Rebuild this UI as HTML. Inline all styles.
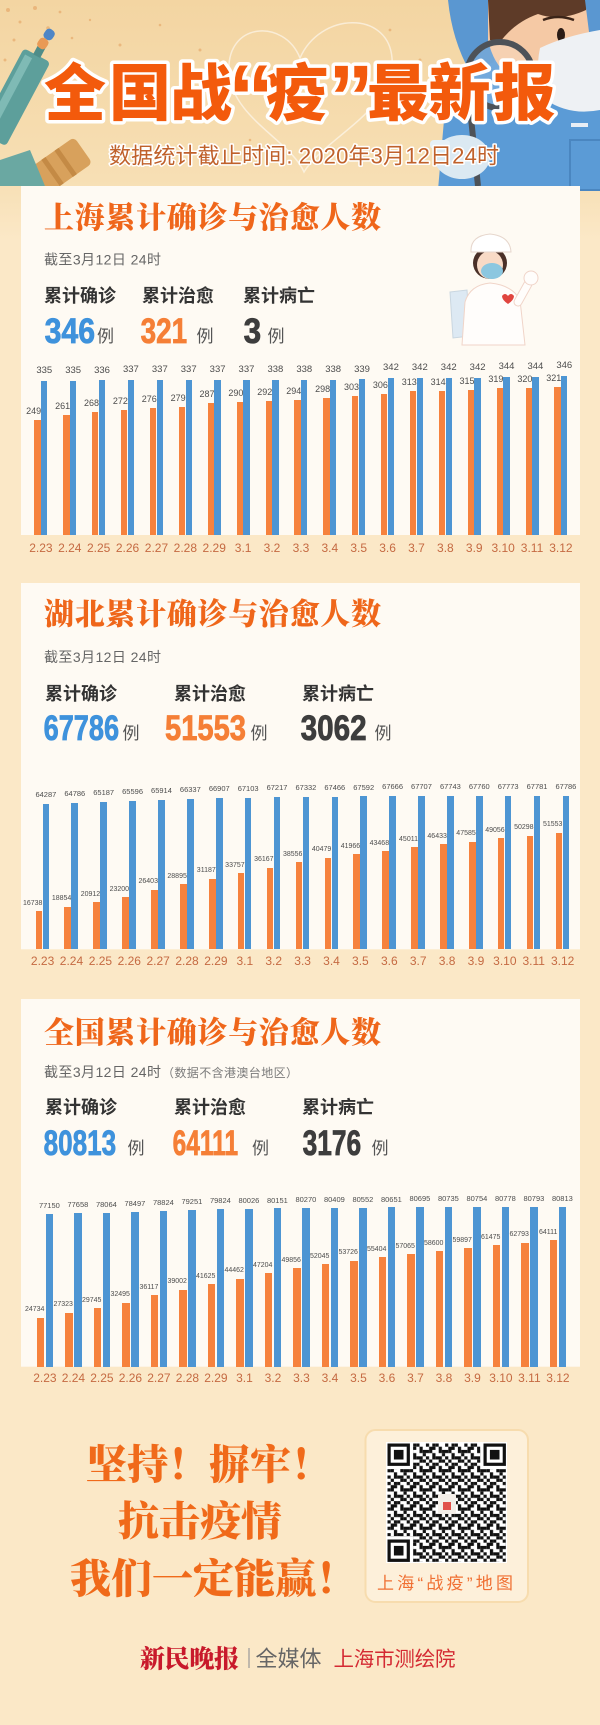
<!DOCTYPE html>
<html><head><meta charset="utf-8">
<style>
html,body{margin:0;padding:0;background:#fbe8c7}
#p{position:relative;width:600px;height:1725px;overflow:hidden;background:#fbe8c7}
#p>svg{position:absolute;left:0;top:0}
.ct{font-family:"Noto Serif CJK SC",serif;font-weight:900;font-size:30px;fill:#ef661a}
.st{font-family:"Liberation Sans","Noto Sans CJK SC",sans-serif;font-size:14px;fill:#666}
.lb{font-family:"Noto Sans CJK SC",sans-serif;font-weight:700;font-size:18px;fill:#333}
.nm{font-family:"Liberation Sans",sans-serif;font-weight:700;font-size:35px;stroke-width:.8}
.li{font-family:"Noto Sans CJK SC",sans-serif;font-size:17px;fill:#555}
.sl{font-family:"Noto Serif CJK SC",serif;font-weight:900;font-size:41px;fill:#f06a1a}
.ch{position:absolute;display:flex;height:0}
.g{position:relative;flex:none;height:0}
.g i{position:absolute;bottom:0;display:block}
.g .o{left:0;background:#f6823d}
.g .u{background:#4d95d3}
.g b,.g s{position:absolute;width:40px;white-space:nowrap;font-family:"Liberation Sans",sans-serif;font-weight:400;text-decoration:none}
.g b{color:#4d4d4d}
.g .lo{text-align:right}
.g .lb{text-align:center}
.g s{text-align:center;color:#c56a42;font-size:12px;line-height:14px}
.c1{left:34.4px;top:535px}
.c1 .g{width:28.9px}
.c1 .o{width:6.3px;height:calc(var(--o)*.46px)}
.c1 .u{left:6.7px;width:6.3px;height:calc(var(--b)*.46px)}
.c1 .lb{left:-10.15px;font-size:9.5px;line-height:10px;bottom:calc(var(--b)*.46px + 4.5px)}
.c1 .lo{left:-33.2px;font-size:9px;line-height:10px;bottom:calc(var(--o)*.46px + 4px)}
.c1 s{left:-13.5px;top:6px}
.c2{left:35.6px;top:949.3px}
.c2 .g{width:28.9px}
.c2 .o{width:6.6px;height:calc(var(--o)*.002262px)}
.c2 .u{left:7px;width:6.6px;height:calc(var(--b)*.002262px)}
.c2 .lb{left:-9.7px;font-size:7.5px;line-height:8px;bottom:calc(var(--b)*.002262px + 4.9px)}
.c2 .lo{left:-33.2px;font-size:7px;line-height:8px;bottom:calc(var(--o)*.002262px + 3.3px)}
.c2 s{left:-13px;top:4.8px}
.c3{left:36.6px;top:1366.7px}
.c3 .g{width:28.5px}
.c3 .o{width:7.6px;height:calc(var(--o)*.001975px)}
.c3 .u{left:9px;width:7.6px;height:calc(var(--b)*.001975px)}
.c3 .lb{left:-7.2px;font-size:7.5px;line-height:8px;bottom:calc(var(--b)*.001975px + 3.9px)}
.c3 .lo{left:-32.2px;font-size:7px;line-height:8px;bottom:calc(var(--o)*.001975px + 3.4px)}
.c3 s{left:-11.7px;top:4.4px}
</style></head><body><div id="p">
<svg width="600" height="1725" viewBox="0 0 600 1725">
<defs>
<linearGradient id="hg" x1="0" y1="0" x2="0" y2="1">
<stop offset="0" stop-color="#f3d5a2"/><stop offset="0.75" stop-color="#f7dfb4"/><stop offset="1" stop-color="#fbe8c7"/>
</linearGradient>
<pattern id="qr" patternUnits="userSpaceOnUse" x="387.5" y="1443.5" width="19.2" height="19.2">
<g fill="#111">
<rect x="0" y="0" width="3.2" height="3.2"/><rect x="6.4" y="0" width="3.2" height="3.2"/><rect x="9.6" y="0" width="3.2" height="3.2"/>
<rect x="3.2" y="3.2" width="3.2" height="3.2"/><rect x="6.4" y="3.2" width="3.2" height="3.2"/><rect x="12.8" y="3.2" width="3.2" height="3.2"/>
<rect x="0" y="6.4" width="3.2" height="3.2"/><rect x="3.2" y="6.4" width="3.2" height="3.2"/><rect x="12.8" y="6.4" width="3.2" height="3.2"/><rect x="16" y="6.4" width="3.2" height="3.2"/>
<rect x="6.4" y="9.6" width="3.2" height="3.2"/><rect x="16" y="9.6" width="3.2" height="3.2"/>
<rect x="0" y="12.8" width="3.2" height="3.2"/><rect x="6.4" y="12.8" width="3.2" height="3.2"/><rect x="9.6" y="12.8" width="3.2" height="3.2"/><rect x="12.8" y="12.8" width="3.2" height="3.2"/>
<rect x="3.2" y="16" width="3.2" height="3.2"/><rect x="12.8" y="16" width="3.2" height="3.2"/><rect x="16" y="16" width="3.2" height="3.2"/>
</g>
</pattern>
</defs>

<!-- header background -->
<rect x="0" y="0" width="600" height="240" fill="url(#hg)"/>
<g fill="#e5a363" opacity=".6">
<circle cx="8" cy="10" r="2"/><circle cx="20" cy="22" r="1.5"/><circle cx="35" cy="8" r="2"/><circle cx="14" cy="40" r="1.5"/>
<circle cx="48" cy="28" r="1.8"/><circle cx="60" cy="12" r="1.4"/><circle cx="28" cy="52" r="1.6"/><circle cx="72" cy="38" r="1.3"/>
<circle cx="5" cy="60" r="1.5"/><circle cx="90" cy="20" r="1.2"/><circle cx="120" cy="45" r="1.5"/><circle cx="160" cy="25" r="1.3"/>
<circle cx="200" cy="50" r="1.5"/><circle cx="390" cy="30" r="1.4"/><circle cx="420" cy="60" r="1.5"/><circle cx="250" cy="140" r="1.3"/>
</g>
<path d="M300,58 C284,18 226,22 229,72 C232,118 290,140 304,172 C324,138 396,110 392,58 C388,10 320,12 300,58 Z" fill="none" stroke="#fff" stroke-width="1.5" opacity=".55"/>

<!-- left syringe & items -->
<g transform="translate(16,95) rotate(28)">
<rect x="-15" y="-45" width="30" height="95" rx="4" fill="#5d9f9b"/>
<rect x="-11" y="-40" width="8" height="80" fill="#7fbab5"/>
<rect x="-4" y="-62" width="8" height="18" fill="#4f8d89"/>
</g>
<g transform="translate(46,39) rotate(35)">
<rect x="-5" y="-11" width="10" height="11" rx="4" fill="#4f86c6"/>
<rect x="-5" y="0" width="10" height="11" rx="4" fill="#e99a55"/>
</g>
<g transform="translate(62,165) rotate(-35)">
<rect x="-26" y="-16" width="52" height="32" rx="5" fill="#d8a15c"/>
<rect x="-14" y="-16" width="5" height="32" fill="#c48a45"/>
<rect x="2" y="-16" width="5" height="32" fill="#c48a45"/>
</g>
<path d="M0,160 L30,150 L45,186 L0,186 Z" fill="#6aa8a2"/>

<!-- right doctor -->
<path d="M438,190 L444,120 Q452,72 482,58 L600,50 L600,190 Z" fill="#5b9bd6"/>
<path d="M448,0 L494,0 L494,62 L470,72 Q452,40 448,0 Z" fill="#5a97d1"/>
<path d="M488,0 L590,0 L592,72 Q560,92 520,82 Q495,72 488,40 Z" fill="#f5c9a5"/>
<path d="M488,0 L588,0 L586,10 Q560,22 538,14 Q515,22 500,42 L490,40 Z" fill="#5e3b28"/>
<path d="M585,0 L600,0 L600,45 L590,40 Z" fill="#5a97d1"/>
<path d="M543,20 Q558,14 574,20" stroke="#3b2418" stroke-width="2.5" fill="none"/>
<ellipse cx="561" cy="35" rx="4" ry="7" fill="#2b1c16"/>
<ellipse cx="570" cy="50" rx="7" ry="3.5" fill="#f0a0a0" opacity=".7"/>
<path d="M540,48 Q565,36 600,30 L600,110 Q570,116 546,100 Q534,76 540,48 Z" fill="#eef1f4"/>
<circle cx="500" cy="75" r="33" fill="#ffffff" fill-opacity=".15" stroke="#4d5258" stroke-width="6"/>
<line x1="470" y1="108" x2="478" y2="186" stroke="#4d5258" stroke-width="6"/>
<ellipse cx="462" cy="157" rx="28" ry="22" fill="#dbe9f2"/>
<rect x="430" y="140" width="20" height="9" rx="4" fill="#e6f0f6"/>
<rect x="571" y="123" width="17" height="4" fill="#e8eef5"/>
<rect x="570" y="140" width="34" height="50" fill="none" stroke="#4a86c0" stroke-width="2"/>

<!-- header title -->
<g font-family="Noto Sans CJK SC,sans-serif" font-weight="900" font-size="62" fill="#f35a0c" stroke="#fff" stroke-width="7" stroke-linejoin="round" paint-order="stroke">
<text x="44 109 170" y="115">全国战</text>
<text x="266" y="115">疫</text>
<text x="367 428.5 493.6" y="115">最新报</text>
</g>
<g font-family="Liberation Sans,sans-serif" font-weight="700" font-size="92" fill="#f35a0c" stroke="#fff" stroke-width="7" stroke-linejoin="round" paint-order="stroke">
<text x="228" y="129">“</text>
<text x="328" y="129">”</text>
</g>
<text x="109" y="163.4" textLength="390" font-family="Liberation Sans,Noto Sans CJK SC,sans-serif" font-size="22" fill="#c0612b" stroke="#fff" stroke-width="3" stroke-linejoin="round" paint-order="stroke">数据统计截止时间: 2020年3月12日24时</text>

<!-- cards -->
<rect x="21" y="186" width="559" height="349" fill="#fefaf3"/>
<rect x="21" y="583" width="559" height="366.3" fill="#fefaf3"/>
<rect x="21" y="999" width="559" height="367.7" fill="#fefaf3"/>

<!-- card 1 -->
<text class="ct" x="44" y="228.1" textLength="337">上海累计确诊与治愈人数</text>
<text class="st" x="44" y="264.3" textLength="117">截至3月12日 24时</text>
<text class="lb" x="44" y="301.8">累计确诊</text>
<text class="lb" x="142" y="301.8">累计治愈</text>
<text class="lb" x="243" y="301.8">累计病亡</text>
<text class="nm" x="44.6" y="343" textLength="50.5" lengthAdjust="spacingAndGlyphs" fill="#3e92dc" stroke="#3e92dc">346</text>
<text class="nm" x="140.6" y="343" textLength="46.5" lengthAdjust="spacingAndGlyphs" fill="#f57f36" stroke="#f57f36">321</text>
<text class="nm" x="243.6" y="343" textLength="17.5" lengthAdjust="spacingAndGlyphs" fill="#3d3d3d" stroke="#3d3d3d">3</text>
<text class="li" x="97" y="342">例</text>
<text class="li" x="196.5" y="342">例</text>
<text class="li" x="267.5" y="342">例</text>

<!-- nurse -->
<path d="M450,292 L467,290 L470,336 L453,338 Z" fill="#dde9f3" stroke="#c9d6e0"/>
<path d="M462,345 L465,302 Q470,285 490,283 Q512,285 520,300 L525,345 Z" fill="#fffdfb" stroke="#f0d4c8"/>
<path d="M518,302 L528,284" stroke="#f0d4c8" stroke-width="9" stroke-linecap="round"/>
<path d="M518,302 L528,284" stroke="#fffdfb" stroke-width="7" stroke-linecap="round"/>
<circle cx="531" cy="278" r="7" fill="#fffdfb" stroke="#f0d4c8"/>
<ellipse cx="490" cy="263" rx="17" ry="16" fill="#4a3028"/>
<ellipse cx="490" cy="265" rx="13" ry="14" fill="#f8dac6"/>
<ellipse cx="492" cy="271" rx="11" ry="8" fill="#8cc7e0"/>
<path d="M471,252 Q470,236 490,234 Q510,236 511,252 Z" fill="#fff" stroke="#e6d6cc"/>
<path d="M502,296 q3,-4 6,0 q3,-4 6,0 q0,4 -6,8 q-6,-4 -6,-8 Z" fill="#e0453f"/>

<!-- card 2 -->
<text class="ct" x="44" y="624.4" textLength="337">湖北累计确诊与治愈人数</text>
<text class="st" x="44" y="662" textLength="117">截至3月12日 24时</text>
<text class="lb" x="45" y="699.8">累计确诊</text>
<text class="lb" x="174" y="699.8">累计治愈</text>
<text class="lb" x="302" y="699.8">累计病亡</text>
<text class="nm" x="43.6" y="740" textLength="75.5" lengthAdjust="spacingAndGlyphs" fill="#3e92dc" stroke="#3e92dc">67786</text>
<text class="nm" x="165" y="740" textLength="81" lengthAdjust="spacingAndGlyphs" fill="#f57f36" stroke="#f57f36">51553</text>
<text class="nm" x="300.6" y="740" textLength="66" lengthAdjust="spacingAndGlyphs" fill="#3d3d3d" stroke="#3d3d3d">3062</text>
<text class="li" x="122.5" y="739">例</text>
<text class="li" x="250.5" y="739">例</text>
<text class="li" x="374.5" y="739">例</text>

<!-- card 3 -->
<text class="ct" x="44" y="1043.1" textLength="337">全国累计确诊与治愈人数</text>
<text class="st" x="44" y="1077" textLength="117">截至3月12日 24时</text>
<text x="162" y="1077" textLength="136" font-family="Noto Sans CJK SC,sans-serif" font-size="12" fill="#7a7a7a">（数据不含港澳台地区）</text>
<text class="lb" x="45" y="1113.5">累计确诊</text>
<text class="lb" x="174" y="1113.5">累计治愈</text>
<text class="lb" x="302" y="1113.5">累计病亡</text>
<text class="nm" x="43.6" y="1155" textLength="72.5" lengthAdjust="spacingAndGlyphs" fill="#3e92dc" stroke="#3e92dc">80813</text>
<text class="nm" x="172.6" y="1155" textLength="65.5" lengthAdjust="spacingAndGlyphs" fill="#f57f36" stroke="#f57f36">64111</text>
<text class="nm" x="302.6" y="1155" textLength="58.5" lengthAdjust="spacingAndGlyphs" fill="#3d3d3d" stroke="#3d3d3d">3176</text>
<text class="li" x="127.5" y="1154">例</text>
<text class="li" x="252" y="1154">例</text>
<text class="li" x="371.5" y="1154">例</text>

<!-- slogans -->
<text class="sl" x="86" y="1479.1">坚持！摒牢！</text>
<text class="sl" x="118" y="1535.6">抗击疫情</text>
<text class="sl" x="70" y="1593.1">我们一定能赢！</text>

<!-- QR box -->
<rect x="365.5" y="1430" width="162.5" height="172" rx="10" fill="#fdf0da" stroke="#f7dcae" stroke-width="2"/>
<rect x="386" y="1442" width="121" height="121" fill="#fff"/>
<rect x="387.5" y="1443.5" width="118.4" height="118.4" fill="url(#qr)"/>
<g>
<rect x="387.5" y="1443.5" width="25.6" height="25.6" fill="#fff"/>
<rect x="387.5" y="1443.5" width="22.4" height="22.4" fill="#111"/>
<rect x="390.7" y="1446.7" width="16" height="16" fill="#fff"/>
<rect x="393.9" y="1449.9" width="9.6" height="9.6" fill="#111"/>
<rect x="480.3" y="1443.5" width="25.6" height="25.6" fill="#fff"/>
<rect x="483.5" y="1443.5" width="22.4" height="22.4" fill="#111"/>
<rect x="486.7" y="1446.7" width="16" height="16" fill="#fff"/>
<rect x="489.9" y="1449.9" width="9.6" height="9.6" fill="#111"/>
<rect x="387.5" y="1536.3" width="25.6" height="25.6" fill="#fff"/>
<rect x="387.5" y="1539.5" width="22.4" height="22.4" fill="#111"/>
<rect x="390.7" y="1542.7" width="16" height="16" fill="#fff"/>
<rect x="393.9" y="1545.9" width="9.6" height="9.6" fill="#111"/>
<rect x="438" y="1494" width="18" height="20" rx="2" fill="#f3eee8"/>
<rect x="443" y="1502" width="8" height="8" fill="#e0504a"/>
</g>
<text x="377" y="1589.2" textLength="136" font-family="Liberation Sans,Noto Sans CJK SC,sans-serif" font-size="17" fill="#f07033">上海“战疫”地图</text>

<!-- footer -->
<text x="140" y="1667.5" textLength="99" font-family="Noto Serif CJK SC,serif" font-weight="900" font-size="25" fill="#c8192b">新民晚报</text>
<line x1="249" y1="1648" x2="249" y2="1668" stroke="#999" stroke-width="1.2"/>
<text x="255.5" y="1666.4" textLength="66" font-family="Noto Sans CJK SC,sans-serif" font-size="22" fill="#666">全媒体</text>
<text x="333.5" y="1666" textLength="122" font-family="Noto Sans CJK SC,sans-serif" font-size="20.5" fill="#d42a33">上海市测绘院</text>
</svg>

<div class="ch c1">
<div class="g" style="--o:249;--b:335"><i class="o"></i><i class="u"></i><b class="lo">249</b><b class="lb">335</b><s>2.23</s></div>
<div class="g" style="--o:261;--b:335"><i class="o"></i><i class="u"></i><b class="lo">261</b><b class="lb">335</b><s>2.24</s></div>
<div class="g" style="--o:268;--b:336"><i class="o"></i><i class="u"></i><b class="lo">268</b><b class="lb">336</b><s>2.25</s></div>
<div class="g" style="--o:272;--b:337"><i class="o"></i><i class="u"></i><b class="lo">272</b><b class="lb">337</b><s>2.26</s></div>
<div class="g" style="--o:276;--b:337"><i class="o"></i><i class="u"></i><b class="lo">276</b><b class="lb">337</b><s>2.27</s></div>
<div class="g" style="--o:279;--b:337"><i class="o"></i><i class="u"></i><b class="lo">279</b><b class="lb">337</b><s>2.28</s></div>
<div class="g" style="--o:287;--b:337"><i class="o"></i><i class="u"></i><b class="lo">287</b><b class="lb">337</b><s>2.29</s></div>
<div class="g" style="--o:290;--b:337"><i class="o"></i><i class="u"></i><b class="lo">290</b><b class="lb">337</b><s>3.1</s></div>
<div class="g" style="--o:292;--b:338"><i class="o"></i><i class="u"></i><b class="lo">292</b><b class="lb">338</b><s>3.2</s></div>
<div class="g" style="--o:294;--b:338"><i class="o"></i><i class="u"></i><b class="lo">294</b><b class="lb">338</b><s>3.3</s></div>
<div class="g" style="--o:298;--b:338"><i class="o"></i><i class="u"></i><b class="lo">298</b><b class="lb">338</b><s>3.4</s></div>
<div class="g" style="--o:303;--b:339"><i class="o"></i><i class="u"></i><b class="lo">303</b><b class="lb">339</b><s>3.5</s></div>
<div class="g" style="--o:306;--b:342"><i class="o"></i><i class="u"></i><b class="lo">306</b><b class="lb">342</b><s>3.6</s></div>
<div class="g" style="--o:313;--b:342"><i class="o"></i><i class="u"></i><b class="lo">313</b><b class="lb">342</b><s>3.7</s></div>
<div class="g" style="--o:314;--b:342"><i class="o"></i><i class="u"></i><b class="lo">314</b><b class="lb">342</b><s>3.8</s></div>
<div class="g" style="--o:315;--b:342"><i class="o"></i><i class="u"></i><b class="lo">315</b><b class="lb">342</b><s>3.9</s></div>
<div class="g" style="--o:319;--b:344"><i class="o"></i><i class="u"></i><b class="lo">319</b><b class="lb">344</b><s>3.10</s></div>
<div class="g" style="--o:320;--b:344"><i class="o"></i><i class="u"></i><b class="lo">320</b><b class="lb">344</b><s>3.11</s></div>
<div class="g" style="--o:321;--b:346"><i class="o"></i><i class="u"></i><b class="lo">321</b><b class="lb">346</b><s>3.12</s></div>
</div>

<div class="ch c2">
<div class="g" style="--o:16738;--b:64287"><i class="o"></i><i class="u"></i><b class="lo">16738</b><b class="lb">64287</b><s>2.23</s></div>
<div class="g" style="--o:18854;--b:64786"><i class="o"></i><i class="u"></i><b class="lo">18854</b><b class="lb">64786</b><s>2.24</s></div>
<div class="g" style="--o:20912;--b:65187"><i class="o"></i><i class="u"></i><b class="lo">20912</b><b class="lb">65187</b><s>2.25</s></div>
<div class="g" style="--o:23200;--b:65596"><i class="o"></i><i class="u"></i><b class="lo">23200</b><b class="lb">65596</b><s>2.26</s></div>
<div class="g" style="--o:26403;--b:65914"><i class="o"></i><i class="u"></i><b class="lo">26403</b><b class="lb">65914</b><s>2.27</s></div>
<div class="g" style="--o:28895;--b:66337"><i class="o"></i><i class="u"></i><b class="lo">28895</b><b class="lb">66337</b><s>2.28</s></div>
<div class="g" style="--o:31187;--b:66907"><i class="o"></i><i class="u"></i><b class="lo">31187</b><b class="lb">66907</b><s>2.29</s></div>
<div class="g" style="--o:33757;--b:67103"><i class="o"></i><i class="u"></i><b class="lo">33757</b><b class="lb">67103</b><s>3.1</s></div>
<div class="g" style="--o:36167;--b:67217"><i class="o"></i><i class="u"></i><b class="lo">36167</b><b class="lb">67217</b><s>3.2</s></div>
<div class="g" style="--o:38556;--b:67332"><i class="o"></i><i class="u"></i><b class="lo">38556</b><b class="lb">67332</b><s>3.3</s></div>
<div class="g" style="--o:40479;--b:67466"><i class="o"></i><i class="u"></i><b class="lo">40479</b><b class="lb">67466</b><s>3.4</s></div>
<div class="g" style="--o:41966;--b:67592"><i class="o"></i><i class="u"></i><b class="lo">41966</b><b class="lb">67592</b><s>3.5</s></div>
<div class="g" style="--o:43468;--b:67666"><i class="o"></i><i class="u"></i><b class="lo">43468</b><b class="lb">67666</b><s>3.6</s></div>
<div class="g" style="--o:45011;--b:67707"><i class="o"></i><i class="u"></i><b class="lo">45011</b><b class="lb">67707</b><s>3.7</s></div>
<div class="g" style="--o:46433;--b:67743"><i class="o"></i><i class="u"></i><b class="lo">46433</b><b class="lb">67743</b><s>3.8</s></div>
<div class="g" style="--o:47585;--b:67760"><i class="o"></i><i class="u"></i><b class="lo">47585</b><b class="lb">67760</b><s>3.9</s></div>
<div class="g" style="--o:49056;--b:67773"><i class="o"></i><i class="u"></i><b class="lo">49056</b><b class="lb">67773</b><s>3.10</s></div>
<div class="g" style="--o:50298;--b:67781"><i class="o"></i><i class="u"></i><b class="lo">50298</b><b class="lb">67781</b><s>3.11</s></div>
<div class="g" style="--o:51553;--b:67786"><i class="o"></i><i class="u"></i><b class="lo">51553</b><b class="lb">67786</b><s>3.12</s></div>
</div>

<div class="ch c3">
<div class="g" style="--o:24734;--b:77150"><i class="o"></i><i class="u"></i><b class="lo">24734</b><b class="lb">77150</b><s>2.23</s></div>
<div class="g" style="--o:27323;--b:77658"><i class="o"></i><i class="u"></i><b class="lo">27323</b><b class="lb">77658</b><s>2.24</s></div>
<div class="g" style="--o:29745;--b:78064"><i class="o"></i><i class="u"></i><b class="lo">29745</b><b class="lb">78064</b><s>2.25</s></div>
<div class="g" style="--o:32495;--b:78497"><i class="o"></i><i class="u"></i><b class="lo">32495</b><b class="lb">78497</b><s>2.26</s></div>
<div class="g" style="--o:36117;--b:78824"><i class="o"></i><i class="u"></i><b class="lo">36117</b><b class="lb">78824</b><s>2.27</s></div>
<div class="g" style="--o:39002;--b:79251"><i class="o"></i><i class="u"></i><b class="lo">39002</b><b class="lb">79251</b><s>2.28</s></div>
<div class="g" style="--o:41625;--b:79824"><i class="o"></i><i class="u"></i><b class="lo">41625</b><b class="lb">79824</b><s>2.29</s></div>
<div class="g" style="--o:44462;--b:80026"><i class="o"></i><i class="u"></i><b class="lo">44462</b><b class="lb">80026</b><s>3.1</s></div>
<div class="g" style="--o:47204;--b:80151"><i class="o"></i><i class="u"></i><b class="lo">47204</b><b class="lb">80151</b><s>3.2</s></div>
<div class="g" style="--o:49856;--b:80270"><i class="o"></i><i class="u"></i><b class="lo">49856</b><b class="lb">80270</b><s>3.3</s></div>
<div class="g" style="--o:52045;--b:80409"><i class="o"></i><i class="u"></i><b class="lo">52045</b><b class="lb">80409</b><s>3.4</s></div>
<div class="g" style="--o:53726;--b:80552"><i class="o"></i><i class="u"></i><b class="lo">53726</b><b class="lb">80552</b><s>3.5</s></div>
<div class="g" style="--o:55404;--b:80651"><i class="o"></i><i class="u"></i><b class="lo">55404</b><b class="lb">80651</b><s>3.6</s></div>
<div class="g" style="--o:57065;--b:80695"><i class="o"></i><i class="u"></i><b class="lo">57065</b><b class="lb">80695</b><s>3.7</s></div>
<div class="g" style="--o:58600;--b:80735"><i class="o"></i><i class="u"></i><b class="lo">58600</b><b class="lb">80735</b><s>3.8</s></div>
<div class="g" style="--o:59897;--b:80754"><i class="o"></i><i class="u"></i><b class="lo">59897</b><b class="lb">80754</b><s>3.9</s></div>
<div class="g" style="--o:61475;--b:80778"><i class="o"></i><i class="u"></i><b class="lo">61475</b><b class="lb">80778</b><s>3.10</s></div>
<div class="g" style="--o:62793;--b:80793"><i class="o"></i><i class="u"></i><b class="lo">62793</b><b class="lb">80793</b><s>3.11</s></div>
<div class="g" style="--o:64111;--b:80813"><i class="o"></i><i class="u"></i><b class="lo">64111</b><b class="lb">80813</b><s>3.12</s></div>
</div>
</div></body></html>
